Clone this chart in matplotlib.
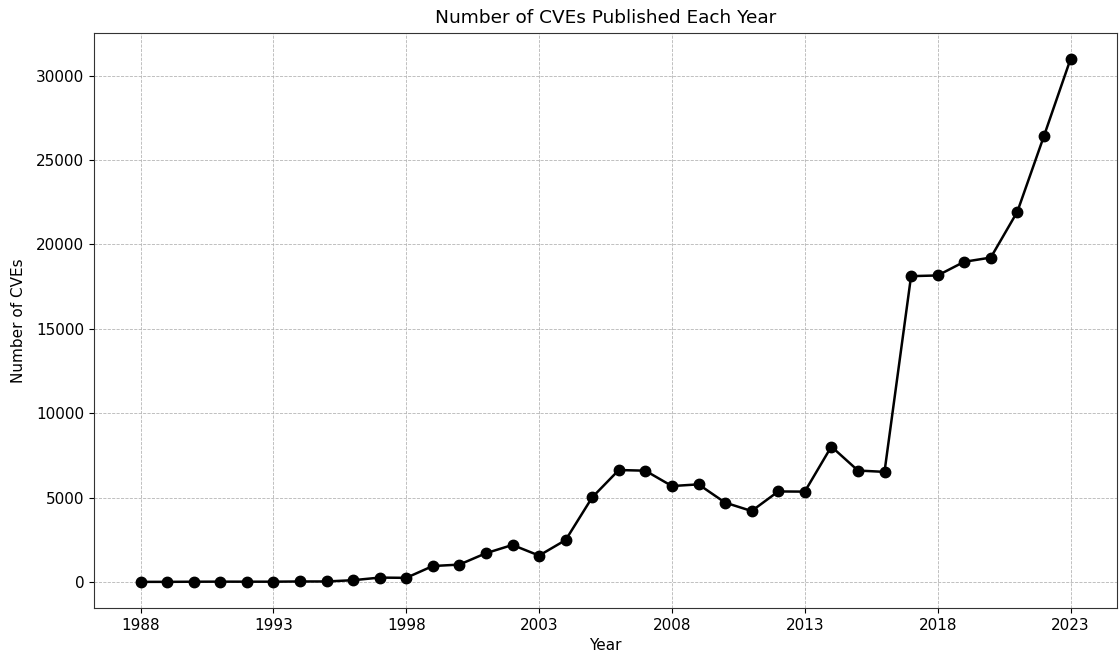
import matplotlib
matplotlib.use("Agg")
import matplotlib.pyplot as plt

years = list(range(1988, 2024))
cve_counts = [
    2, 3, 11, 15, 13, 13, 25, 25, 100, 255, 240, 940, 1025, 1700, 2190, 1560,
    2480, 5010, 6630, 6590, 5680, 5780, 4700, 4200, 5360, 5350, 8020, 6600,
    6520, 18120, 18160, 18970, 19220, 21940, 26420, 30980,
]
xticks = list(range(1988, 2024, 5))

plt.rcParams["font.family"] = "DejaVu Sans"
plt.rcParams["font.size"] = 11

fig = plt.figure(figsize=(11.2, 6.58), dpi=100)
ax = fig.add_axes([94 / 1120, 1 - 608 / 658, (1117 - 94) / 1120, (608 - 33) / 658])

ax.plot(years, cve_counts, color="black", marker="o", markersize=7.5, linewidth=1.8)
ax.set_title("Number of CVEs Published Each Year", fontsize=13.3, pad=7.5)
ax.set_xlabel("Year", fontsize=11)
ax.set_ylabel("Number of CVEs", fontsize=11, labelpad=7)
ax.set_xticks(xticks)
ax.grid(True, linestyle="--", linewidth=0.6, color="#b5b5b5")
for s in ax.spines.values():
    s.set_color("#333333")

fig.savefig("out.png", dpi=100)
